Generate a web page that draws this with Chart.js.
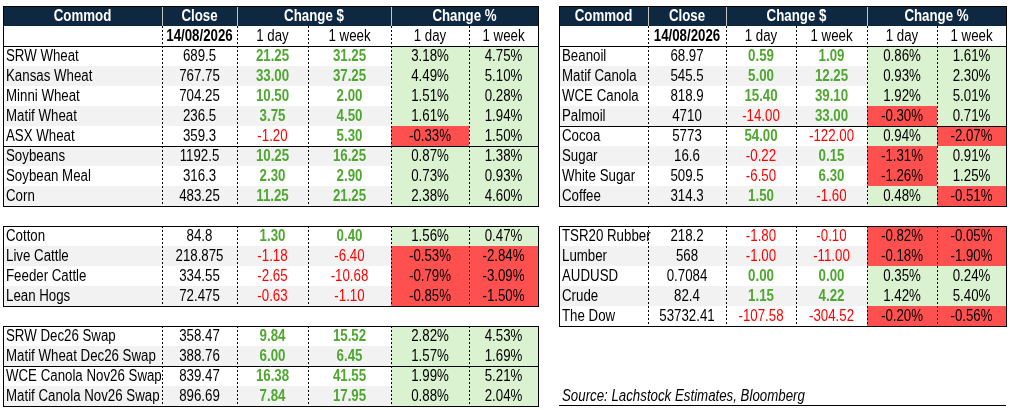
<!DOCTYPE html>
<html>
<head>
<meta charset="utf-8">
<script src="https://cdn.jsdelivr.net/npm/chart.js@4.4.1/dist/chart.umd.min.js"></script>
<style>
html, body { margin: 0; padding: 0; background: #ffffff; }
#wrap { width: 1010px; height: 410px; }
</style>
</head>
<body>
<div id="wrap"><canvas id="priceTable"></canvas></div>
<script>
const reportDate = '14/08/2026';
const sourceNote = 'Source: Lachstock Estimates, Bloomberg';
const headLabels = ['Commod', 'Close', 'Change $', 'Change %'];
const periodLabels = ['1 day', '1 week', '1 day', '1 week'];

// left table
const leftNames = ['SRW Wheat', 'Kansas Wheat', 'Minni Wheat', 'Matif Wheat', 'ASX Wheat',
    'Soybeans', 'Soybean Meal', 'Corn',
    'Cotton', 'Live Cattle', 'Feeder Cattle', 'Lean Hogs',
    'SRW Dec26 Swap', 'Matif Wheat Dec26 Swap', 'WCE Canola Nov26 Swap', 'Matif Canola Nov26 Swap'];
const leftClose = [689.5, 767.75, 704.25, 236.5, 359.3, 1192.5, 316.3, 483.25,
    84.8, 218.875, 334.55, 72.475, 358.47, 388.76, 839.47, 896.69];
const leftDay = [21.25, 33.00, 10.50, 3.75, -1.20, 10.25, 2.30, 11.25,
    1.30, -1.18, -2.65, -0.63, 9.84, 6.00, 16.38, 7.84];
const leftWeek = [31.25, 37.25, 2.00, 4.50, 5.30, 16.25, 2.90, 21.25,
    0.40, -6.40, -10.68, -1.10, 15.52, 6.45, 41.55, 17.95];
const leftPctDay = [3.18, 4.49, 1.51, 1.61, -0.33, 0.87, 0.73, 2.38,
    1.56, -0.53, -0.79, -0.85, 2.82, 1.57, 1.99, 0.88];
const leftPctWeek = [4.75, 5.10, 0.28, 1.94, 1.50, 1.38, 0.93, 4.60,
    0.47, -2.84, -3.09, -1.50, 4.53, 1.69, 5.21, 2.04];
const leftGroups = [8, 4, 4];

// right table
const rightNames = ['Beanoil', 'Matif Canola', 'WCE Canola', 'Palmoil', 'Cocoa', 'Sugar', 'White Sugar', 'Coffee',
    'TSR20 Rubber', 'Lumber', 'AUDUSD', 'Crude', 'The Dow'];
const rightClose = [68.97, 545.5, 818.9, 4710, 5773, 16.6, 509.5, 314.3,
    218.2, 568, 0.7084, 82.4, 53732.41];
const rightDay = [0.59, 5.00, 15.40, -14.00, 54.00, -0.22, -6.50, 1.50,
    -1.80, -1.00, 0.00, 1.15, -107.58];
const rightWeek = [1.09, 12.25, 39.10, 33.00, -122.00, 0.15, 6.30, -1.60,
    -0.10, -11.00, 0.00, 4.22, -304.52];
const rightPctDay = [0.86, 0.93, 1.92, -0.30, 0.94, -1.31, -1.26, 0.48,
    -0.82, -0.18, 0.35, 1.42, -0.20];
const rightPctWeek = [1.61, 2.30, 5.01, 0.71, -2.07, 0.91, 1.25, -0.51,
    -0.05, -1.90, 0.24, 5.40, -0.56];
const rightGroups = [8, 5];

// layout (x in px units, y in row units)
const leftCols = [3, 162, 237, 308, 391, 469, 538];
const rightCols = [559, 648, 726, 796, 867, 937, 1006];
const leftRules = [5, 14];   // solid line above these data rows
const rightRules = [4];

const FONT = "'Liberation Sans', Arial, sans-serif";
const SIZE = '16px ';
const SQUEEZE = 0.83;   // narrow the face, like Excel's narrow font
const NAVY = '#0e2841';
const GREEN = '#4ea72e';
const RED = '#ff0000';
const POS_BG = '#daf2d0';
const NEG_BG = '#ff5050';
const BAND = '#f2f2f2';

function hline(ctx, x0, x1, y) {
    ctx.beginPath();
    ctx.moveTo(x0, y + 0.5);
    ctx.lineTo(x1, y + 0.5);
    ctx.stroke();
}
function vline(ctx, x, y0, y1) {
    ctx.beginPath();
    ctx.moveTo(x + 0.5, y0);
    ctx.lineTo(x + 0.5, y1);
    ctx.stroke();
}
function text(ctx, s, x, y, align) {
    ctx.save();
    ctx.translate(x, y);
    ctx.scale(SQUEEZE, 1);
    ctx.textAlign = align || 'center';
    ctx.textBaseline = 'middle';
    ctx.fillText(s, 0, 0);
    ctx.restore();
}

function drawTable(ctx, X, Y, t) {
    const c = t.cols.map(X);
    const L = c[0], R = c[6];

    // header row
    ctx.fillStyle = NAVY;
    ctx.fillRect(L, Y(0), R - L, Y(1) - Y(0));
    ctx.font = 'bold ' + SIZE + FONT;
    ctx.fillStyle = '#ffffff';
    const spans = [[0, 1], [1, 2], [2, 4], [4, 6]];
    headLabels.forEach((h, i) => {
        text(ctx, h, (c[spans[i][0]] + c[spans[i][1]]) / 2, (Y(0) + Y(1)) / 2 + 1);
    });
    ctx.strokeStyle = '#c4c4c4';
    ctx.lineWidth = 1;
    [1, 2, 4].forEach(k => vline(ctx, c[k], Y(0), Y(1)));

    // date row
    const ym1 = (Y(1) + Y(2)) / 2 + 1;
    ctx.fillStyle = '#000000';
    text(ctx, reportDate, (c[1] + c[2]) / 2, ym1);
    ctx.font = SIZE + FONT;
    periodLabels.forEach((p, i) => text(ctx, p, (c[i + 2] + c[i + 3]) / 2, ym1));

    // data rows
    let r = 2, k = 0;
    const boxes = [];
    t.groups.forEach((n, g) => {
        const start = g === 0 ? 0 : r;
        for (let i = 0; i < n; i++, k++, r++) {
            const y0 = Y(r), y1 = Y(r + 1), ym = (y0 + y1) / 2 + 1;
            if (i % 2 === 1) {
                ctx.fillStyle = BAND;
                ctx.fillRect(L, y0, c[4] - L, y1 - y0);
            }
            [t.pctDay[k], t.pctWeek[k]].forEach((v, j) => {
                ctx.fillStyle = v < 0 ? NEG_BG : POS_BG;
                ctx.fillRect(c[4 + j], y0, c[5 + j] - c[4 + j], y1 - y0);
            });
            ctx.font = SIZE + FONT;
            ctx.fillStyle = '#000000';
            text(ctx, t.names[k], L + 3, ym, 'left');
            text(ctx, String(t.close[k]), (c[1] + c[2]) / 2, ym);
            [t.day[k], t.week[k]].forEach((v, j) => {
                ctx.font = (v < 0 ? '' : 'bold ') + SIZE + FONT;
                ctx.fillStyle = v < 0 ? RED : GREEN;
                text(ctx, v.toFixed(2), (c[2 + j] + c[3 + j]) / 2, ym);
            });
            ctx.font = SIZE + FONT;
            ctx.fillStyle = '#000000';
            [t.pctDay[k], t.pctWeek[k]].forEach((v, j) => {
                text(ctx, v.toFixed(2) + '%', (c[4 + j] + c[5 + j]) / 2, ym);
            });
        }
        boxes.push([start, r]);
        r++;
    });

    // dashed column dividers
    ctx.strokeStyle = '#000000';
    ctx.lineWidth = 1;
    ctx.setLineDash([2, 2]);
    boxes.forEach((b, i) => {
        const top = Y(i === 0 ? 1 : b[0]);
        for (let j = 1; j < 6; j++) vline(ctx, c[j], top, Y(b[1]));
    });
    ctx.setLineDash([]);

    // solid rules
    boxes.forEach(b => {
        ctx.strokeRect(L + 0.5, Y(b[0]) + 0.5, R - L, Y(b[1]) - Y(b[0]));
    });
    hline(ctx, L, R, Y(2));
    let rr = 2, kk = 0;
    t.groups.forEach(n => {
        for (let i = 0; i < n; i++, kk++, rr++) {
            if (t.rules.includes(kk)) hline(ctx, L, R, Y(rr));
        }
        rr++;
    });
}

const leftTable = {
    cols: leftCols, names: leftNames, close: leftClose, day: leftDay, week: leftWeek,
    pctDay: leftPctDay, pctWeek: leftPctWeek, groups: leftGroups, rules: leftRules
};
const rightTable = {
    cols: rightCols, names: rightNames, close: rightClose, day: rightDay, week: rightWeek,
    pctDay: rightPctDay, pctWeek: rightPctWeek, groups: rightGroups, rules: rightRules
};

const tablePlugin = {
    id: 'tablePlugin',
    afterDraw(chart) {
        const ctx = chart.ctx;
        const X = v => Math.round(chart.scales.x.getPixelForValue(v));
        const Y = v => Math.round(chart.scales.y.getPixelForValue(v));
        ctx.save();
        drawTable(ctx, X, Y, leftTable);
        drawTable(ctx, X, Y, rightTable);
        // source note
        ctx.font = 'italic ' + SIZE + FONT;
        ctx.fillStyle = '#000000';
        text(ctx, sourceNote, X(rightCols[0]) + 3, (Y(19) + Y(20)) / 2 + 1, 'left');
        ctx.strokeStyle = '#000000';
        ctx.lineWidth = 1;
        hline(ctx, X(rightCols[0]), X(rightCols[6]), Y(20) - 1);
        ctx.restore();
    }
};

new Chart(document.getElementById('priceTable'), {
    type: 'scatter',
    data: { datasets: [] },
    options: {
        responsive: true,
        maintainAspectRatio: false,
        animation: false,
        layout: { padding: 0 },
        plugins: { legend: { display: false }, tooltip: { enabled: false } },
        scales: {
            x: { type: 'linear', min: 0, max: 1010, display: false },
            y: { type: 'linear', min: -0.3, max: 20.2, reverse: true, display: false }
        }
    },
    plugins: [tablePlugin]
});
</script>
</body>
</html>
